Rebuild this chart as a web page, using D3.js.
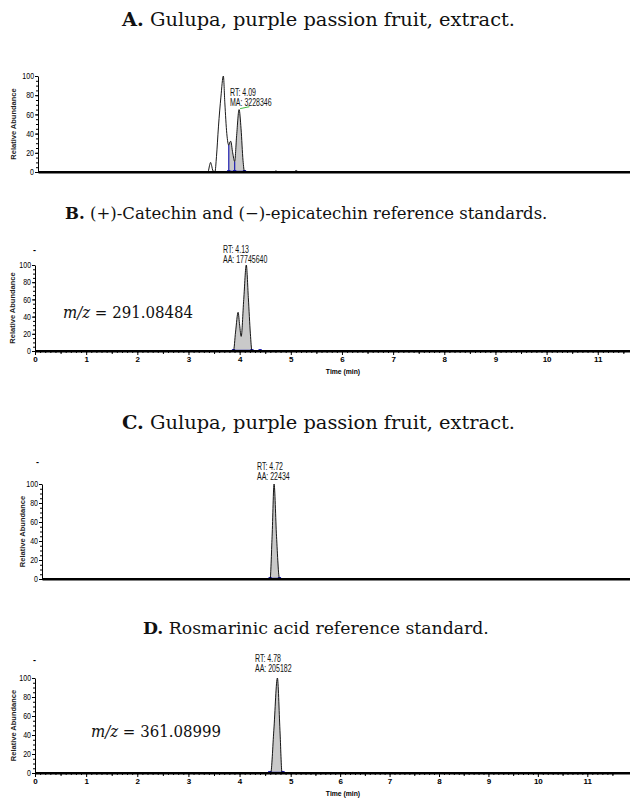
<!DOCTYPE html>
<html><head><meta charset="utf-8">
<script src="https://cdn.jsdelivr.net/npm/d3@7"></script>
<style>body{margin:0;background:#fff}svg{display:block}</style>
</head><body>
<svg id="c" width="630" height="801"></svg>
<script>
// ---------- DATA ----------
const titleBold = ["A.", "B.", "C.", "D."];
const titleText = [" Gulupa, purple passion fruit, extract.",
  " (+)-Catechin and (\u2212)-epicatechin reference standards.",
  " Gulupa, purple passion fruit, extract.",
  " Rosmarinic acid reference standard."];
const yTicks = [0, 20, 40, 60, 80, 100];
const xTicks = [0, 1, 2, 3, 4, 5, 6, 7, 8, 9, 10, 11];

// Panel A trace
const timeA = [0, 3.40, 3.46, 3.49, 3.51, 3.53, 3.56, 3.60, 3.63, 3.67, 3.72, 3.77, 3.80, 3.84, 3.88, 3.90, 3.92, 3.96, 4.00, 4.04, 4.09, 4.13, 4.17, 4.20, 4.30, 4.80, 4.84, 4.88, 5.20, 5.25, 5.30, 12];
const absA  = [0, 0,    0.5,  7,    10,   7,    1,    0.5,  16,   47,   78,   100,  72,   40,   28,   31,   32,   20,   11,   38,   65,   45,   12,   0.5,  0,    0,    1.2,  0,    0,    1.5,  0,    0];
// Panel B trace
const timeB = [0, 3.80, 3.88, 3.92, 3.97, 4.00, 4.03, 4.08, 4.13, 4.17, 4.21, 4.24, 4.30, 11.63];
const absB  = [0, 0,    0.5,  22,   45,   30,   17,   60,   100,  62,   20,   0.5,  0,    0];
// Panel C trace
const timeC = [0, 4.60, 4.64, 4.68, 4.72, 4.77, 4.83, 4.90, 12];
const absC  = [0, 0,    0.5,  45,   100,  45,   0.5,  0,    0];
// Panel D trace
const timeD = [0, 4.55, 4.61, 4.67, 4.74, 4.79, 4.83, 4.90, 11.85];
const absD  = [0, 0,    0.5,  45,   100,  45,   0.5,  0,    0];

const rtText = ["RT: 4.09", "RT: 4.13", "RT: 4.72", "RT: 4.78"];
const areaText = ["MA: 3228346", "AA: 17745640", "AA: 22434", "AA: 205182"];
const mzText = [null, "291.08484", null, "361.08999"];
// shaded integration ranges (min)
const fillRange = [[3.88, 4.20], [3.88, 4.24], [4.64, 4.83], [4.61, 4.83]];
// blue integration markers (min)
const markersA = [3.88, 4.00, 4.20];
const markersB = [3.88, 4.24, 4.40];
const markersC = [4.64, 4.83];
const markersD = [4.59, 4.85];

// ---------- LAYOUT ----------
const svg = d3.select("#c");
const serif = "'DejaVu Serif', 'Liberation Serif', serif";
const narrow = "'Liberation Sans Narrow', 'Arial Narrow', 'Liberation Sans', sans-serif";
const sans = "'Liberation Sans', Arial, sans-serif";

function condense(sel, f) {
  sel.each(function () {
    const L = this.getComputedTextLength();
    if (L > 0) d3.select(this).attr("textLength", L * f).attr("lengthAdjust", "spacingAndGlyphs");
  });
}

const titleY = [26, 219, 429, 634];
const titleX = [122, 65, 122, 143];
const titleW = [393, 483, 393, 346];
titleText.forEach((t, i) => {
  const tx = svg.append("text").attr("x", titleX[i]).attr("y", titleY[i])
    .attr("font-family", serif).attr("font-size", 18.5).attr("fill", "#111");
  tx.append("tspan").attr("font-weight", "bold").text(titleBold[i]);
  tx.append("tspan").text(t);
  const L = tx.node().getComputedTextLength();
  if (L > titleW[i]) tx.attr("font-size", 18.5 * titleW[i] / L);
  else tx.attr("textLength", titleW[i]).attr("lengthAdjust", "spacingAndGlyphs");
});

const panels = [
  { t: timeA, a: absA, y0: 172, y100: 76, xd: [0, 12], xr: [38, 628], ticks: false, ylab: 13, mk: markersA, rtx: 230, rty: 96, dash: null },
  { t: timeB, a: absB, y0: 351, y100: 265, xd: [0, 11.63], xr: [35, 630], ticks: true, ylab: 12, mk: markersB, rtx: 223, rty: 253, dash: [33, 253], mz: [63, 318] },
  { t: timeC, a: absC, y0: 579, y100: 484, xd: [0, 12], xr: [42, 632], ticks: false, ylab: 22, mk: markersC, rtx: 257, rty: 470, dash: [36, 465] },
  { t: timeD, a: absD, y0: 773, y100: 678, xd: [0, 5, 11, 11.85], xr: [35, 290.7, 587.3, 630], ticks: true, ylab: 13, mk: markersD, rtx: 255, rty: 662, dash: [33, 663], mz: [91, 737] }
];

panels.forEach((p, i) => {
  const g = svg.append("g");
  const x = d3.scaleLinear().domain(p.xd).range(p.xr);
  const y = d3.scaleLinear().domain([0, 100]).range([p.y0, p.y100]);
  const data = d3.zip(p.t, p.a);
  const x0 = p.xr[0];

  // y axis minor
  g.append("g").attr("transform", `translate(${x0},0)`)
    .call(d3.axisLeft(y).tickValues(d3.range(0, 101, 5)).tickSize(2).tickFormat(""))
    .call(s => s.select(".domain").remove());
  // y axis major
  const ya = g.append("g").attr("transform", `translate(${x0},0)`)
    .call(d3.axisLeft(y).tickValues(yTicks).tickSize(3).tickSizeOuter(0).tickPadding(1));
  ya.selectAll("text").attr("font-family", narrow).attr("font-size", 8.5).attr("fill", "#000");
  condense(ya.selectAll("text"), 0.82);
  ya.select(".domain").attr("stroke-width", 1);

  // x axis
  if (p.ticks) {
    g.append("g").attr("transform", `translate(0,${p.y0})`)
      .call(d3.axisBottom(x).tickValues(d3.range(0, 116).map(d => d / 10)).tickSize(2).tickFormat(""))
      .call(s => s.select(".domain").remove());
    g.append("g").attr("transform", `translate(0,${p.y0})`)
      .call(d3.axisBottom(x).tickValues(d3.range(0, 12).map(d => d + 0.5)).tickSize(3).tickFormat(""))
      .call(s => s.select(".domain").remove());
    const xa = g.append("g").attr("transform", `translate(0,${p.y0})`)
      .call(d3.axisBottom(x).tickValues(xTicks).tickSize(4).tickSizeOuter(0).tickPadding(1).tickFormat(d3.format("d")));
    xa.selectAll("text").attr("font-family", sans).attr("font-weight", "bold").attr("font-size", 8).attr("fill", "#000");
    xa.select(".domain").attr("stroke-width", 2);
    const tl = g.append("text").attr("x", p.xr[0] + 308).attr("y", p.y0 + 23).attr("text-anchor", "middle")
      .attr("font-family", narrow).attr("font-size", 8).attr("font-weight", "bold").text("Time (min)");
    condense(tl, 0.85);
  } else {
    g.append("g").attr("transform", `translate(0,${p.y0})`)
      .call(d3.axisBottom(x.copy().range([x0, 630]).domain([p.xd[0], p.xd[0] + (p.xd[p.xd.length - 1] - p.xd[0]) * (630 - x0) / (p.xr[p.xr.length - 1] - x0)])).tickValues([]).tickSizeOuter(0))
      .select(".domain").attr("stroke-width", 2);
  }

  // y label
  g.append("text").attr("transform", `translate(${p.ylab},${(p.y0 + p.y100) / 2}) rotate(-90)`)
    .attr("text-anchor", "middle").attr("dy", "0.35em").attr("font-family", sans)
    .attr("font-weight", "bold").attr("font-size", 7.5).attr("fill", "#222").text("Relative Abundance");

  // fill
  const fr = fillRange[i];
  const fd = data.filter(d => d[0] >= fr[0] - 1e-9 && d[0] <= fr[1] + 1e-9);
  g.append("path").datum(fd)
    .attr("d", d3.area().x(d => x(d[0])).y0(y(0)).y1(d => y(d[1])).curve(d3.curveMonotoneX))
    .attr("fill", "#c9c9c9");

  // blue markers
  if (i === 0) {
    [3.88, 4.00].forEach(m => {
      const v = data.find(d => Math.abs(d[0] - m) < 1e-9);
      g.append("line").attr("x1", x(m)).attr("x2", x(m)).attr("y1", y(0)).attr("y2", y(v ? v[1] : 10))
        .attr("stroke", "#2020b0").attr("stroke-width", 1.2);
    });
    // green annotation tick
    g.append("line").attr("x1", x(4.09) + 1).attr("x2", x(4.30)).attr("y1", y(66)).attr("y2", y(68))
      .attr("stroke", "#44bb44").attr("stroke-width", 1);
  }
  g.append("line").attr("x1", x(p.mk[0])).attr("x2", x(fr[1])).attr("y1", y(0) - 0.5).attr("y2", y(0) - 0.5)
    .attr("stroke", "#2020b0").attr("stroke-width", 1.5);
  p.mk.forEach(m => {
    g.append("rect").attr("x", x(m) - 1.6).attr("y", y(0) - 2).attr("width", 3.2).attr("height", 2.5)
      .attr("fill", "#2020b0");
  });

  // trace
  g.append("path").datum(data)
    .attr("d", d3.line().x(d => x(d[0])).y(d => y(d[1])).curve(d3.curveMonotoneX))
    .attr("fill", "none").attr("stroke", "#000").attr("stroke-width", 0.9);
  // redraw baseline on top
  g.append("line").attr("x1", x0).attr("x2", 630).attr("y1", p.y0).attr("y2", p.y0)
    .attr("stroke", "#000").attr("stroke-width", 2);

  // annotations
  const an = g.append("g").attr("font-family", narrow).attr("font-size", 10).attr("fill", "#111");
  an.append("text").attr("x", p.rtx).attr("y", p.rty).text(rtText[i]);
  an.append("text").attr("x", p.rtx).attr("y", p.rty + 10).text(areaText[i]);
  condense(an.selectAll("text"), 0.7);
  if (p.dash) g.append("text").attr("x", p.dash[0]).attr("y", p.dash[1]).attr("font-family", sans)
    .attr("font-size", 9).attr("font-weight", "bold").text("-");
  if (p.mz) {
    const t = g.append("text").attr("x", p.mz[0]).attr("y", p.mz[1]).attr("font-family", serif)
      .attr("font-size", 16).attr("fill", "#111").attr("textLength", 130).attr("lengthAdjust", "spacingAndGlyphs");
    t.append("tspan").attr("font-style", "italic").text("m/z");
    t.append("tspan").text(" = " + mzText[i]);
  }
});
</script>
</body></html>
